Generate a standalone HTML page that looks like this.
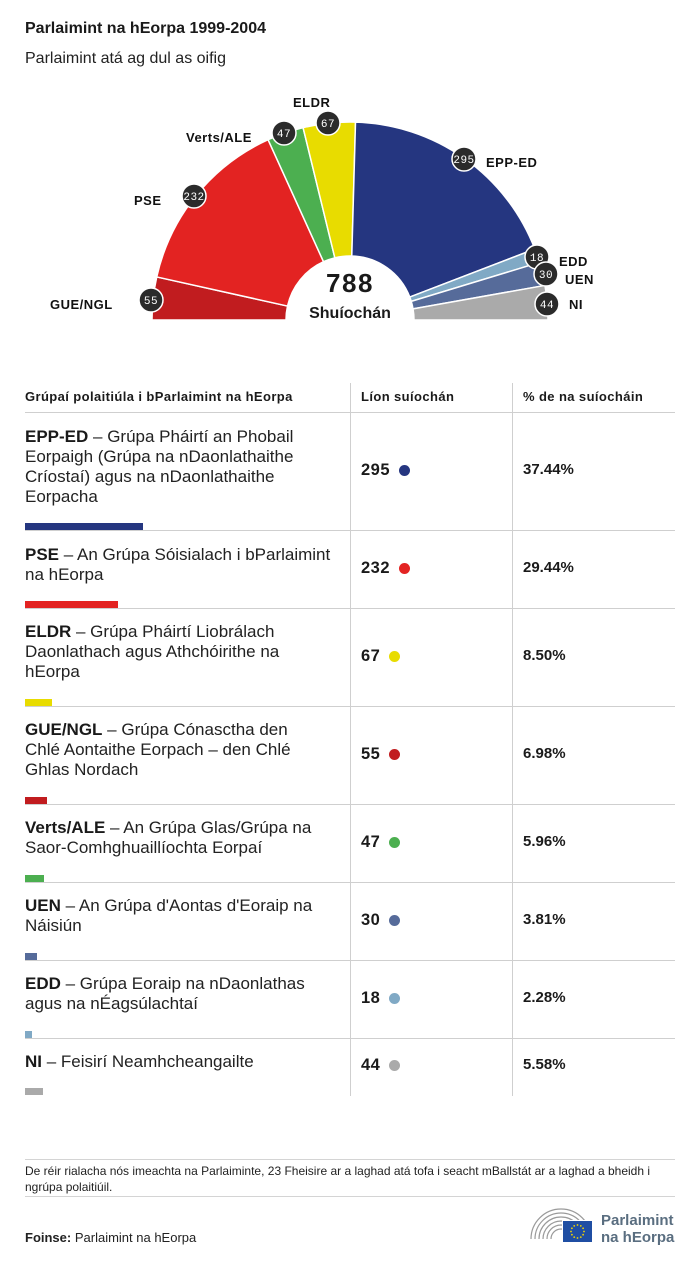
<!DOCTYPE html>
<html>
<head>
<meta charset="utf-8">
<style>
  html,body{margin:0;padding:0;background:#fff;}
  body{width:700px;height:1264px;position:relative;overflow:hidden;font-family:"Liberation Sans",Arial,sans-serif;color:#222;}
  .abs{position:absolute;}
  .hl{position:absolute;left:25px;width:650px;height:1px;background:#cfcfcf;}
  .vl{position:absolute;top:383px;height:713px;width:1px;background:#cfcfcf;}
  .row{position:absolute;left:25px;font-size:17px;line-height:20px;white-space:nowrap;color:#222;}
  .row b{font-weight:bold;color:#1a1a1a;}
  .num{position:absolute;left:361px;height:20px;display:flex;align-items:center;font-weight:bold;font-size:16.5px;letter-spacing:0.5px;color:#1a1a1a;line-height:20px;}
  .dot{display:inline-block;width:11px;height:11px;border-radius:50%;margin-left:9px;}
  .pct{position:absolute;left:523px;font-weight:bold;font-size:15px;line-height:20px;color:#1a1a1a;}
  .bar{position:absolute;left:25px;height:7px;}
  .th{position:absolute;top:389px;font-size:13px;font-weight:bold;color:#1a1a1a;white-space:nowrap;letter-spacing:0.4px;}
</style>
</head>
<body>

<div class="abs" style="left:25px;top:20px;font-size:16px;font-weight:bold;color:#1a1a1a;white-space:nowrap;">Parlaimint na hEorpa 1999-2004</div>
<div class="abs" style="left:25px;top:50px;font-size:16px;color:#222;white-space:nowrap;">Parlaimint atá ag dul as oifig</div>

<svg class="abs" style="left:0;top:0" width="700" height="340" viewBox="0 0 700 340">
  <g stroke="#fff" stroke-width="1.5" stroke-linejoin="round">
    <path d="M152,320 A198,198 0 0 1 156.74,276.93 L287.53,306.08 A64,64 0 0 0 286,320 Z" fill="#c11c1f"/>
    <path d="M156.74,276.93 A198,198 0 0 1 268.07,139.74 L323.52,261.73 A64,64 0 0 0 287.53,306.08 Z" fill="#e32322"/>
    <path d="M268.07,139.74 A198,198 0 0 1 303.09,127.64 L334.84,257.82 A64,64 0 0 0 323.52,261.73 Z" fill="#4caf50"/>
    <path d="M303.09,127.64 A198,198 0 0 1 355.52,122.08 L351.79,256.02 A64,64 0 0 0 334.84,257.82 Z" fill="#e8dc00"/>
    <path d="M355.52,122.08 A198,198 0 0 1 534.83,249.0 L409.74,297.05 A64,64 0 0 0 351.79,256.02 Z" fill="#253680"/>
    <path d="M534.83,249.0 A198,198 0 0 1 539.44,262.43 L411.23,301.39 A64,64 0 0 0 409.74,297.05 Z" fill="#80a9c5"/>
    <path d="M539.44,262.43 A198,198 0 0 1 544.96,285.44 L413.02,308.83 A64,64 0 0 0 411.23,301.39 Z" fill="#566b9a"/>
    <path d="M544.96,285.44 A198,198 0 0 1 548,320 L414,320 A64,64 0 0 0 413.02,308.83 Z" fill="#aaaaaa"/>
  </g>
  <rect x="140" y="320" width="420" height="20" fill="#fff"/>

  <g font-family="Liberation Sans, Arial, sans-serif" font-weight="bold" font-size="13" fill="#111" letter-spacing="0.5">
    <text x="50" y="309">GUE/NGL</text>
    <text x="134" y="205">PSE</text>
    <text x="186" y="142">Verts/ALE</text>
    <text x="293" y="107">ELDR</text>
    <text x="486" y="167">EPP-ED</text>
    <text x="559" y="266">EDD</text>
    <text x="565" y="284">UEN</text>
    <text x="569" y="309">NI</text>
  </g>

  <g fill="#2b2b2b" stroke="#fff" stroke-width="1.5">
    <circle cx="151" cy="300" r="12"/>
    <circle cx="194" cy="196" r="12"/>
    <circle cx="284" cy="133" r="12"/>
    <circle cx="328" cy="123" r="12"/>
    <circle cx="464" cy="159" r="12"/>
    <circle cx="537" cy="257" r="12"/>
    <circle cx="546" cy="274" r="12"/>
    <circle cx="547" cy="304" r="12"/>
  </g>
  <g font-family="Liberation Mono, monospace" font-size="11" fill="#fff" text-anchor="middle" letter-spacing="0.5">
    <text x="151" y="304">55</text>
    <text x="194" y="200">232</text>
    <text x="284" y="137">47</text>
    <text x="328" y="127">67</text>
    <text x="464" y="163">295</text>
    <text x="537" y="261">18</text>
    <text x="546" y="278">30</text>
    <text x="547" y="308">44</text>
  </g>

  <text x="350" y="292" text-anchor="middle" font-family="Liberation Sans, Arial, sans-serif" font-weight="bold" font-size="26" fill="#1a1a1a" letter-spacing="1.5">788</text>
  <text x="350" y="318" text-anchor="middle" font-family="Liberation Sans, Arial, sans-serif" font-weight="bold" font-size="16" fill="#1a1a1a">Shuíochán</text>
</svg>

<!-- Table header -->
<div class="th" style="left:25px;">Grúpaí polaitiúla i bParlaimint na hEorpa</div>
<div class="th" style="left:361px;">Líon suíochán</div>
<div class="th" style="left:523px;">% de na suíocháin</div>

<div class="vl" style="left:350px"></div>
<div class="vl" style="left:512px"></div>

<div class="hl" style="top:412px"></div>
<div class="hl" style="top:530px"></div>
<div class="hl" style="top:608px"></div>
<div class="hl" style="top:706px"></div>
<div class="hl" style="top:804px"></div>
<div class="hl" style="top:882px"></div>
<div class="hl" style="top:960px"></div>
<div class="hl" style="top:1038px"></div>

<!-- Rows -->
<div class="row" style="top:427px"><b>EPP-ED</b> – Grúpa Pháirtí an Phobail<br>Eorpaigh (Grúpa na nDaonlathaithe<br>Críostaí) agus na nDaonlathaithe<br>Eorpacha</div>
<div class="bar" style="top:523px;width:118px;background:#253680"></div>
<div class="num" style="top:460px">295<span class="dot" style="background:#253680"></span></div>
<div class="pct" style="top:460px">37.44%</div>

<div class="row" style="top:545px"><b>PSE</b> – An Grúpa Sóisialach i bParlaimint<br>na hEorpa</div>
<div class="bar" style="top:601px;width:93px;background:#e32322"></div>
<div class="num" style="top:558px">232<span class="dot" style="background:#e32322"></span></div>
<div class="pct" style="top:558px">29.44%</div>

<div class="row" style="top:622px"><b>ELDR</b> – Grúpa Pháirtí Liobrálach<br>Daonlathach agus Athchóirithe na<br>hEorpa</div>
<div class="bar" style="top:699px;width:27px;background:#e8dc00"></div>
<div class="num" style="top:646px">67<span class="dot" style="background:#e8dc00"></span></div>
<div class="pct" style="top:646px">8.50%</div>

<div class="row" style="top:720px"><b>GUE/NGL</b> – Grúpa Cónasctha den<br>Chlé Aontaithe Eorpach – den Chlé<br>Ghlas Nordach</div>
<div class="bar" style="top:797px;width:22px;background:#c11c1f"></div>
<div class="num" style="top:744px">55<span class="dot" style="background:#c11c1f"></span></div>
<div class="pct" style="top:744px">6.98%</div>

<div class="row" style="top:818px"><b>Verts/ALE</b> – An Grúpa Glas/Grúpa na<br>Saor-Comhghuaillíochta Eorpaí</div>
<div class="bar" style="top:875px;width:19px;background:#4caf50"></div>
<div class="num" style="top:832px">47<span class="dot" style="background:#4caf50"></span></div>
<div class="pct" style="top:832px">5.96%</div>

<div class="row" style="top:896px"><b>UEN</b> – An Grúpa d'Aontas d'Eoraip na<br>Náisiún</div>
<div class="bar" style="top:953px;width:12px;background:#566b9a"></div>
<div class="num" style="top:910px">30<span class="dot" style="background:#566b9a"></span></div>
<div class="pct" style="top:910px">3.81%</div>

<div class="row" style="top:974px"><b>EDD</b> – Grúpa Eoraip na nDaonlathas<br>agus na nÉagsúlachtaí</div>
<div class="bar" style="top:1031px;width:7px;background:#80a9c5"></div>
<div class="num" style="top:988px">18<span class="dot" style="background:#80a9c5"></span></div>
<div class="pct" style="top:988px">2.28%</div>

<div class="row" style="top:1052px"><b>NI</b> – Feisirí Neamhcheangailte</div>
<div class="bar" style="top:1088px;width:18px;background:#aaaaaa"></div>
<div class="num" style="top:1055px">44<span class="dot" style="background:#aaaaaa"></span></div>
<div class="pct" style="top:1055px">5.58%</div>

<!-- Footer -->
<div class="hl" style="top:1159px;background:#d4d4d4"></div>
<div class="abs" style="left:25px;top:1163px;font-size:12px;line-height:16px;color:#222;white-space:nowrap;">De réir rialacha nós imeachta na Parlaiminte, 23 Fheisire ar a laghad atá tofa i seacht mBallstát ar a laghad a bheidh i<br>ngrúpa polaitiúil.</div>
<div class="hl" style="top:1196px;background:#d4d4d4"></div>

<div class="abs" style="left:25px;top:1230px;font-size:13px;color:#222;white-space:nowrap;"><b>Foinse:</b> Parlaimint na hEorpa</div>

<svg class="abs" style="left:525px;top:1203px" width="75" height="45" viewBox="0 0 75 45">
  <g fill="none" stroke="#9a9a9a" stroke-width="1.2">
    <path d="M6,36 A30,30 0 0 1 66,36"/>
    <path d="M10,36 A26,26 0 0 1 62,36"/>
    <path d="M14,36 A22,22 0 0 1 58,36"/>
    <path d="M18,36 A18,18 0 0 1 54,36"/>
    <path d="M22,36 A14,14 0 0 1 50,36"/>
    <path d="M26,36 A10,10 0 0 1 46,36"/>
  </g>
  <rect x="37" y="17" width="30" height="22" fill="#fff"/>
  <rect x="38" y="18" width="29" height="21" fill="#1f4ea3"/>
  <g fill="#f3d400">
    <circle cx="52.5" cy="22" r="0.9"/><circle cx="55.8" cy="22.9" r="0.9"/><circle cx="58.1" cy="25.3" r="0.9"/>
    <circle cx="59" cy="28.5" r="0.9"/><circle cx="58.1" cy="31.7" r="0.9"/><circle cx="55.8" cy="34.1" r="0.9"/>
    <circle cx="52.5" cy="35" r="0.9"/><circle cx="49.2" cy="34.1" r="0.9"/><circle cx="46.9" cy="31.7" r="0.9"/>
    <circle cx="46" cy="28.5" r="0.9"/><circle cx="46.9" cy="25.3" r="0.9"/><circle cx="49.2" cy="22.9" r="0.9"/>
  </g>
</svg>
<div class="abs" style="left:601px;top:1212px;font-size:15px;line-height:17px;font-weight:bold;color:#5a6e80;white-space:nowrap;">Parlaimint<br>na hEorpa</div>

</body>
</html>
